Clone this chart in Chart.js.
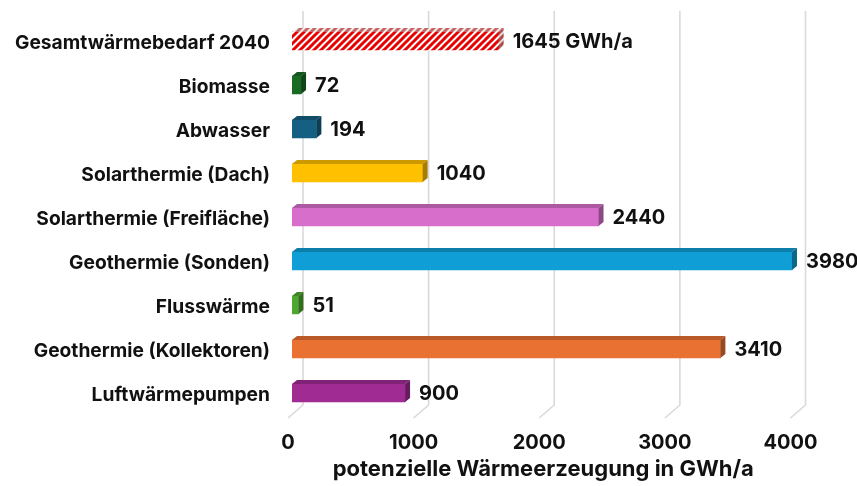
<!DOCTYPE html>
<html>
<head>
<meta charset="utf-8">
<script src="https://cdn.jsdelivr.net/npm/chart.js@4"></script>
<style>
  html, body { margin: 0; padding: 0; background: #ffffff; }
  #wrap { width: 857px; height: 486px; }
</style>
</head>
<body>
<div id="wrap"><canvas id="c" width="857" height="486"></canvas></div>
<script>
const categories = [
  'Gesamtwärmebedarf 2040',
  'Biomasse',
  'Abwasser',
  'Solarthermie (Dach)',
  'Solarthermie (Freifläche)',
  'Geothermie (Sonden)',
  'Flusswärme',
  'Geothermie (Kollektoren)',
  'Luftwärmepumpen'
];
const values = [1645, 72, 194, 1040, 2440, 3980, 51, 3410, 900];
const valueSuffixes = [' GWh/a', '', '', '', '', '', '', '', ''];
const xTicks = [0, 1000, 2000, 3000, 4000];
const barColors = ['hatch', '#196B24', '#156082', '#FFC000', '#D86ECC', '#0F9ED5', '#4EA72E', '#E97132', '#A02B93'];
const axisTitle = 'potenzielle Wärmeerzeugung in GWh/a';

const FONT = 'Inter, "Noto Sans", sans-serif';
const DX = 5, DY = 4;

function makeHatch(fg, bg) {
  const p = document.createElement('canvas');
  const s = 7;
  p.width = s; p.height = s;
  const g = p.getContext('2d');
  g.fillStyle = bg; g.fillRect(0, 0, s, s);
  g.strokeStyle = fg; g.lineWidth = 3; g.lineCap = 'square';
  g.beginPath();
  for (const off of [-s, 0, s]) {
    g.moveTo(off - 1, s + 1); g.lineTo(off + s + 1, -1);
  }
  g.stroke();
  return g.createPattern(p, 'repeat');
}
const hatchFront = makeHatch('#e60000', '#ffffff');
const hatchTop = makeHatch('#c86464', '#eeeeee');
const hatchSide = makeHatch('#b04a4a', '#dddddd');

function shade(hex, f) {
  const n = parseInt(hex.slice(1), 16);
  const r = Math.round(((n >> 16) & 255) * f);
  const g = Math.round(((n >> 8) & 255) * f);
  const b = Math.round((n & 255) * f);
  return `rgb(${r},${g},${b})`;
}
const fronts = barColors.map(c => c === 'hatch' ? hatchFront : c);
const tops = barColors.map(c => c === 'hatch' ? hatchTop : shade(c, 0.8));
const sides = barColors.map(c => c === 'hatch' ? hatchSide : shade(c, 0.65));

const threeD = {
  id: 'threeD',
  beforeDatasetsDraw(chart) {
    const { ctx, chartArea, scales } = chart;
    const xs = scales.x;
    ctx.save();
    ctx.strokeStyle = '#d9d9d9';
    ctx.lineWidth = 1.6;
    xTicks.forEach(v => {
      const px = xs.getPixelForValue(v);
      ctx.beginPath();
      ctx.moveTo(px + 11, 11);
      ctx.lineTo(px + 11, chartArea.bottom - 10);
      ctx.lineTo(px - 4, chartArea.bottom + 3);
      ctx.stroke();
    });
    ctx.restore();
  },
  afterDatasetsDraw(chart) {
    const { ctx } = chart;
    const meta = chart.getDatasetMeta(0);
    ctx.save();
    meta.data.forEach((bar, i) => {
      const { x, y, base, height } = bar.getProps(['x', 'y', 'base', 'height'], true);
      const top = y - height / 2, bottom = y + height / 2;
      ctx.fillStyle = tops[i];
      ctx.beginPath();
      ctx.moveTo(base, top);
      ctx.lineTo(base + DX, top - DY);
      ctx.lineTo(x + DX, top - DY);
      ctx.lineTo(x, top);
      ctx.closePath();
      ctx.fill();
      ctx.fillStyle = sides[i];
      ctx.beginPath();
      ctx.moveTo(x, top);
      ctx.lineTo(x + DX, top - DY);
      ctx.lineTo(x + DX, bottom - DY);
      ctx.lineTo(x, bottom);
      ctx.closePath();
      ctx.fill();
      ctx.fillStyle = '#111111';
      ctx.font = `700 20px ${FONT}`;
      ctx.textAlign = 'left';
      ctx.textBaseline = 'middle';
      ctx.fillText(String(values[i]) + valueSuffixes[i], x + DX + 9, y + 1);
    });
    ctx.restore();
  }
};

new Chart(document.getElementById('c'), {
  type: 'bar',
  data: {
    labels: categories,
    datasets: [{
      data: values,
      backgroundColor: fronts,
      borderWidth: 0,
      barThickness: 18
    }]
  },
  options: {
    indexAxis: 'y',
    responsive: false,
    animation: false,
    events: [],
    layout: { padding: { top: 19, right: 62.5, bottom: 0, left: 0 } },
    plugins: {
      legend: { display: false },
      tooltip: { enabled: false }
    },
    scales: {
      x: {
        min: 0,
        max: 4000,
        afterBuildTicks(scale) { scale.ticks = xTicks.map(v => ({ value: v })); },
        afterFit(scale) { scale.height = 71; scale.paddingLeft = 0; scale.paddingRight = 0; },
        grid: { display: false, drawTicks: false },
        border: { display: false },
        ticks: {
          padding: 15.5,
          labelOffset: -4,
          color: '#111111',
          callback: (v) => String(v),
          font: { family: FONT, size: 20, weight: '700' }
        },
        title: {
          display: true,
          text: axisTitle,
          color: '#111111',
          padding: { top: 0, bottom: 3 },
          font: { family: FONT, size: 22, weight: '700' }
        }
      },
      y: {
        afterFit(scale) { scale.width = 292; scale.paddingTop = 0; scale.paddingBottom = 0; },
        grid: { display: false, drawTicks: false },
        border: { display: false },
        ticks: {
          padding: 22,
          labelOffset: 2,
          color: '#111111',
          font: { family: FONT, size: 19.2, weight: '700' }
        }
      }
    }
  },
  plugins: [threeD]
});
</script>
</body>
</html>
